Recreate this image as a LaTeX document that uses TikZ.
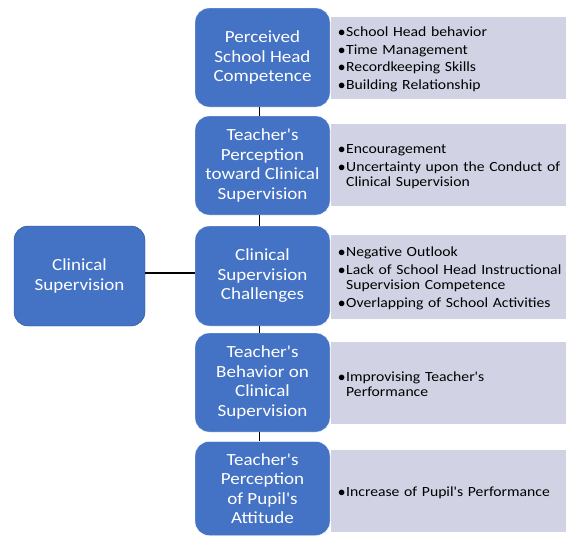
\documentclass[tikz,border=0pt]{standalone}
\usepackage{fontspec}
\setmainfont{Carlito}[Ligatures=TeXOff, FakeStretch=1.12]
\usepackage{xcolor}
\usetikzlibrary{positioning}

\definecolor{boxblue}{RGB}{68,114,196}
\definecolor{boxline}{RGB}{47,82,143}
\definecolor{notegray}{RGB}{209,211,228}

% one bullet point, its second line hangs under the text
\newcommand{\pnt}[1]{\par\noindent\hangindent=8pt\hangafter=1\makebox[8pt][l]{$\bullet$}#1\par}
% a little room under the last point, lifts the text a bit
\newcommand{\notegap}{\par\vspace{5pt}}

\begin{document}
\begin{tikzpicture}[x=1pt, y=-1pt,
    topic/.style={rounded corners=14pt, fill=boxblue, draw=white, thin, text=white, align=center,
      minimum width=135pt, minimum height=99pt, inner sep=2pt, font=\fontsize{17}{19.5}\selectfont},
    note/.style={fill=notegray, anchor=west, text width=226pt, inner xsep=7pt, inner ysep=0pt,
      minimum height=82pt, align=left, font=\fontsize{14}{15.5}\selectfont\setlength{\parskip}{2pt},
      execute at end node=\notegap},
    link/.style={line width=1.3pt}]
    \clip (0,0) rectangle (566,536);

    % the notes behind each topic
    \node[note] (n1) at (331, 58) {\pnt{School Head behavior}\pnt{Time Management}\pnt{Recordkeeping Skills}\pnt{Building Relationship}};
    \node[note] (n2) at (331, 165) {\pnt{Encouragement}\pnt{Uncertainty upon the Conduct of\newline Clinical Supervision}};
    \node[note, minimum height=84pt] (n3) at (331, 277) {\pnt{Negative Outlook}\pnt{Lack of School Head Instructional\newline Supervision Competence}\pnt{Overlapping of School Activities}};
    \node[note] (n4) at (331, 383) {\pnt{Improvising Teacher's\newline Performance}};
    \node[note] (n5) at (331, 491) {\pnt{Increase of Pupil's Performance}};

    % topics
    \node[topic] (t1) at (262.5, 57.5) {Perceived\\School Head\\Competence};
    \node[topic] (t2) at (262.5, 165.5) {Teacher's\\Perception\\toward Clinical\\Supervision};
    \node[topic, minimum height=100pt] (t3) at (262.5, 276) {Clinical\\Supervision\\Challenges};
    \node[topic] (t4) at (262.5, 382.5) {Teacher's\\Behavior on\\Clinical\\Supervision};
    \node[topic, minimum height=94pt] (t5) at (262.5, 488.5) {Teacher's\\Perception\\of Pupil's\\Attitude};

    \node[topic, draw=boxline, minimum width=131pt, minimum height=100pt] (cs) at (79.5, 276) {Clinical\\Supervision};

    % stem running down the topics, slightly left of their middle
    \draw[link] ([xshift=-3pt]t1.south) -- ([xshift=-3pt]t2.north);
    \draw[link] ([xshift=-3pt]t2.south) -- ([xshift=-3pt]t3.north);
    \draw[link] ([xshift=-3pt]t3.south) -- ([xshift=-3pt]t4.north);
    \draw[link] ([xshift=-3pt]t4.south) -- ([xshift=-3pt]t5.north);
    \draw[link] ([yshift=3pt]cs.east) -- ([yshift=3pt]cs.east -| t3.west);
\end{tikzpicture}
\end{document}
